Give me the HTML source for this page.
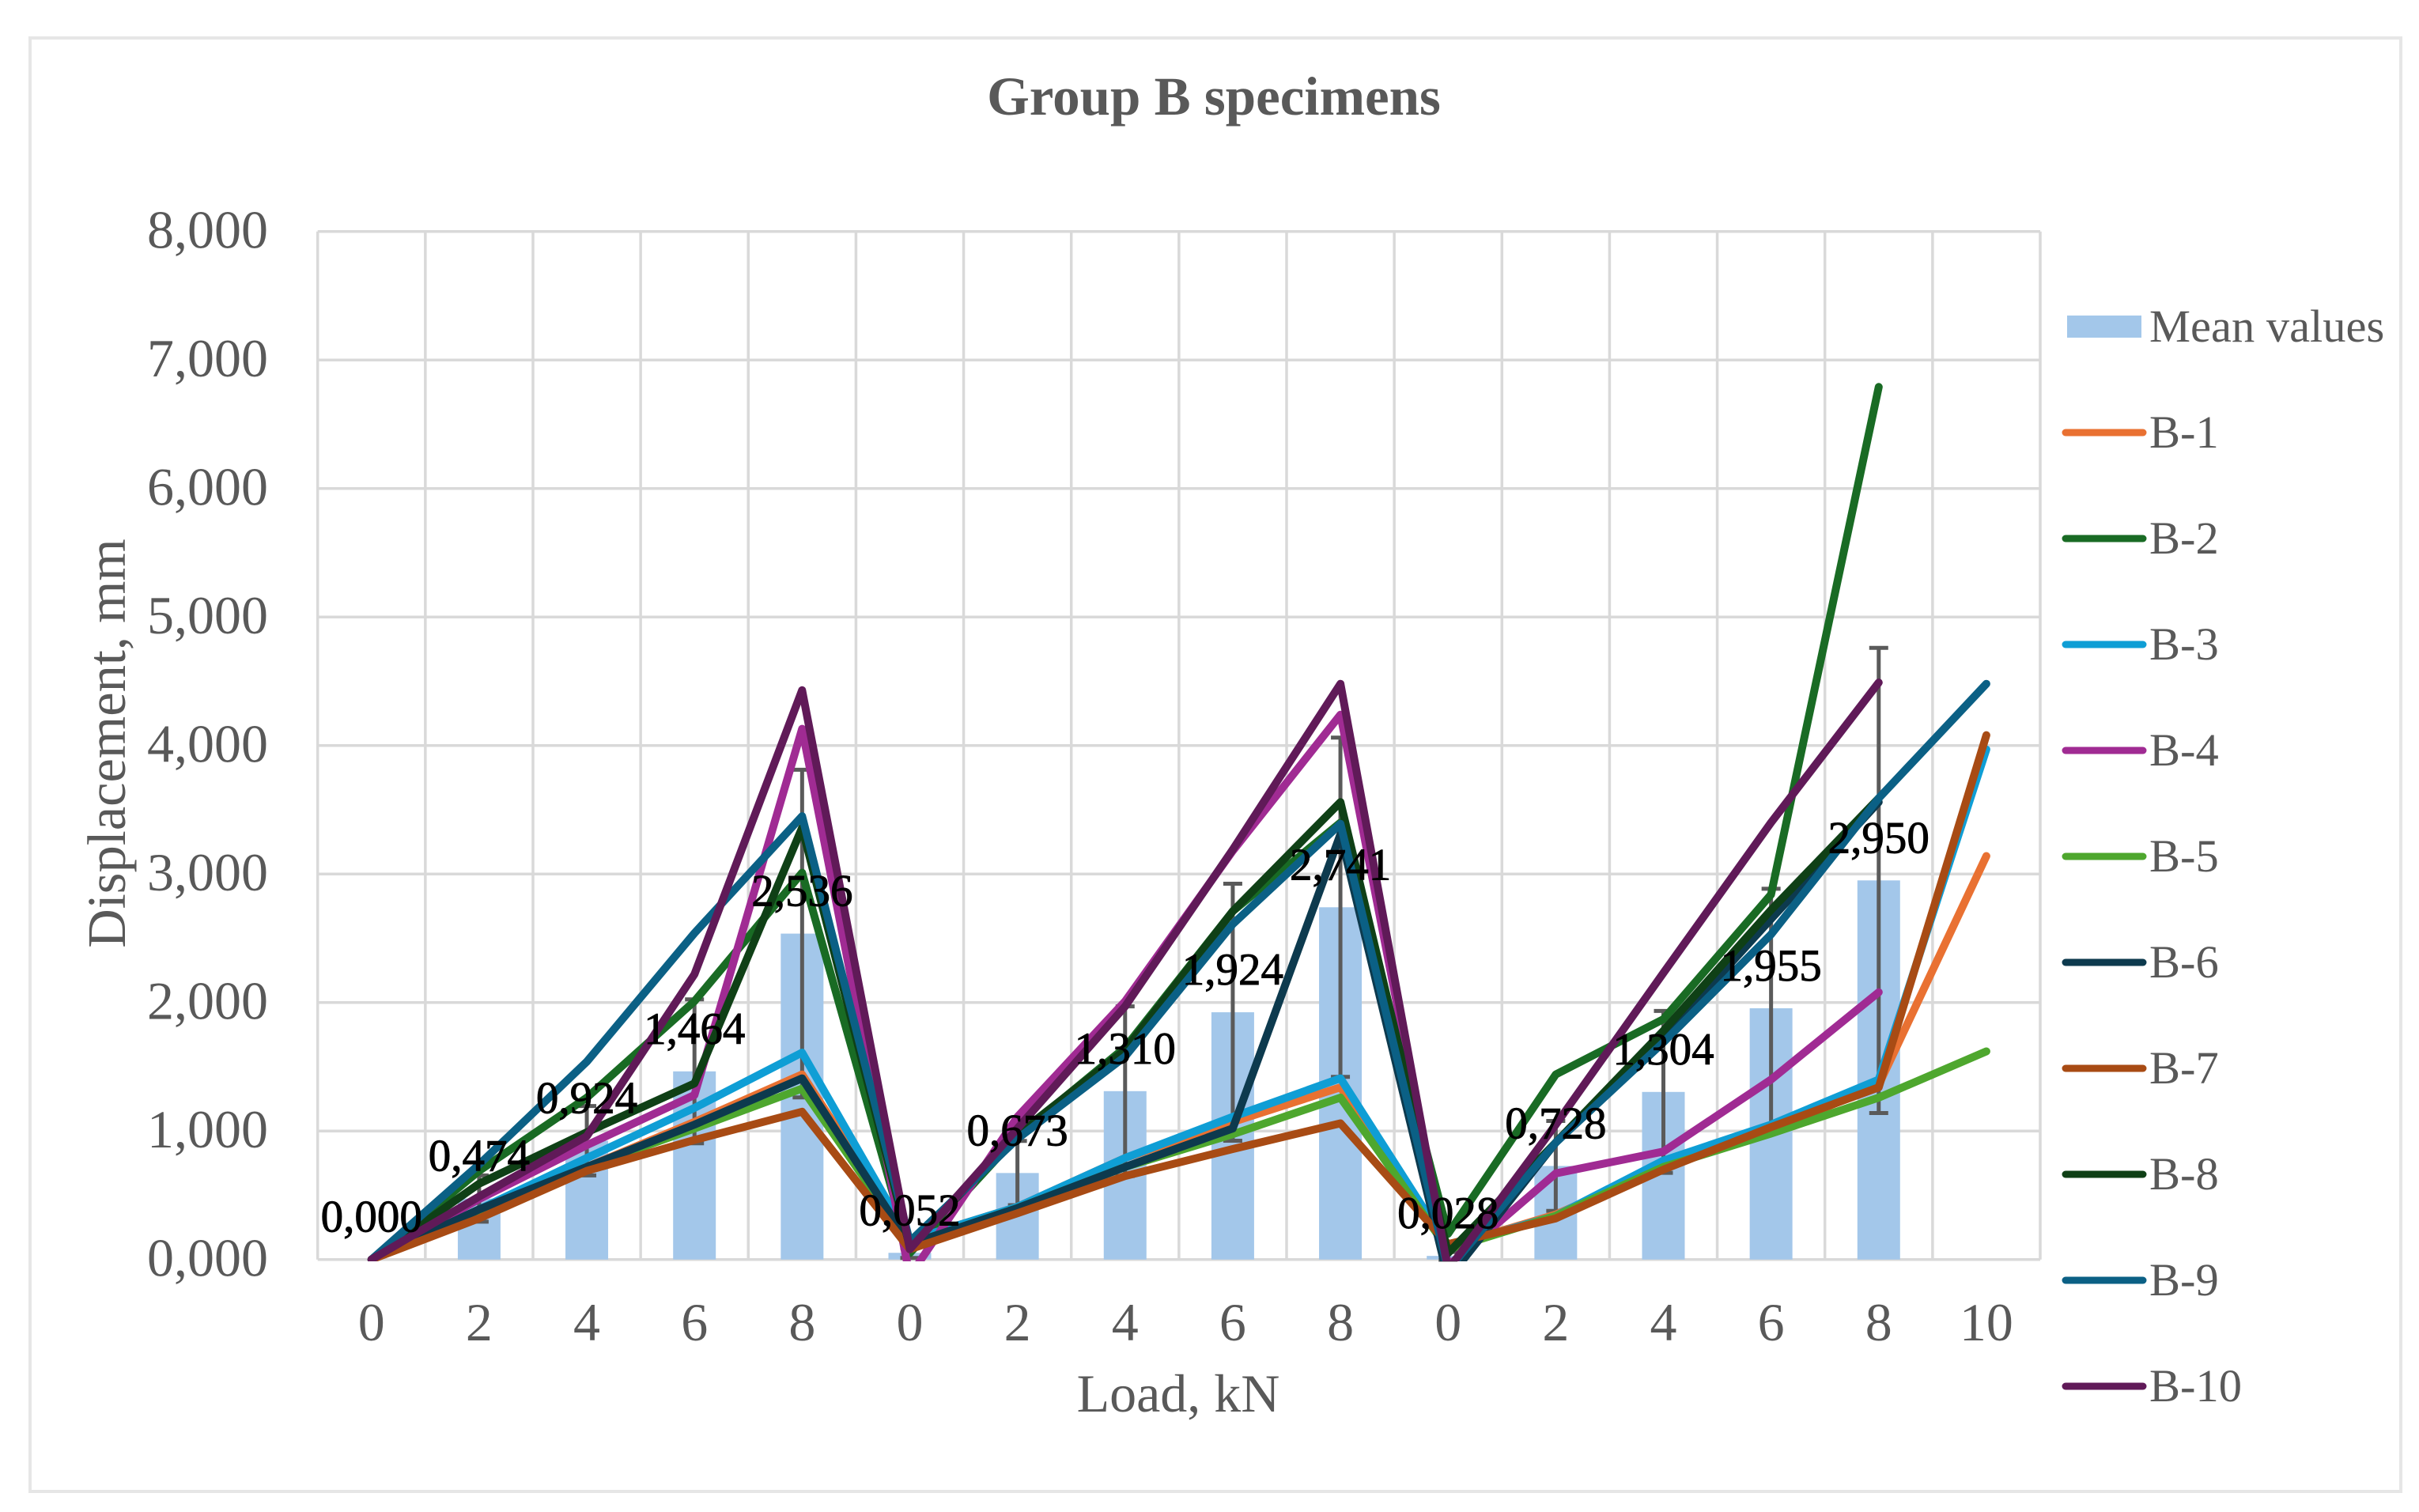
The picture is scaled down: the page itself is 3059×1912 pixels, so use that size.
<!DOCTYPE html>
<html lang="en">
<head>
<meta charset="utf-8">
<title>Group B specimens</title>
<style>
html,body{margin:0;padding:0;background:#fff;width:3059px;height:1912px;overflow:hidden}
svg{display:block;font-family:"Liberation Serif",serif}
</style>
</head>
<body>
<svg id="chart" xmlns="http://www.w3.org/2000/svg" width="3059" height="1912" viewBox="0 0 3059 1912">
  <defs><clipPath id="plot-clip"><rect x="401" y="280" width="2190" height="1315"/></clipPath></defs>
  <rect x="38" y="48" width="2998" height="1838" fill="#fff" stroke="#e6e6e6" stroke-width="4"/>
  <text x="1535" y="145" text-anchor="middle" font-size="69" font-weight="bold" fill="#595959">Group B specimens</text>
  <text x="1490" y="1785" text-anchor="middle" font-size="68" fill="#595959">Load, kN</text>
  <text transform="translate(158 940) rotate(-90)" text-anchor="middle" font-size="68.5" fill="#595959">Displacement, mm</text>
  <g id="grid"></g>
  <g id="bars"></g>
  <g id="errors"></g>
  <g id="lines" clip-path="url(#plot-clip)"></g>
  <g id="labels"></g>
  <g id="ticks"></g>
  <g id="legend"></g>
</svg>
<script>
const categories = ["0","2","4","6","8","0","2","4","6","8","0","2","4","6","8","10"];
const yTicks = [0,1,2,3,4,5,6,7,8];
const yTickLabels = ["0,000","1,000","2,000","3,000","4,000","5,000","6,000","7,000","8,000"];
const meanValues = [0,0.474,0.924,1.464,2.536,0.052,0.673,1.310,1.924,2.741,0.028,0.728,1.304,1.955,2.950,null];
const meanLabels = ["0,000","0,474","0,924","1,464","2,536","0,052","0,673","1,310","1,924","2,741","0,028","0,728","1,304","1,955","2,950",null];
const errorValues = [0,0.18,0.27,0.56,1.275,0.04,0.25,0.66,1.0,1.32,0.03,0.35,0.63,0.93,1.81,null];
const b1 = [0,0.39,0.72,1.07,1.44,0.15,0.41,0.79,1.07,1.34,0.10,0.35,0.72,1.00,1.36,3.14];
const b2 = [0,0.69,1.26,2.01,3.01,0.05,0.96,1.65,2.71,3.40,0.20,1.44,1.87,2.84,6.79,null];
const b3 = [0,0.39,0.79,1.18,1.61,0.15,0.41,0.79,1.11,1.41,0.10,0.34,0.77,1.05,1.40,3.97];
const b4 = [0,0.47,0.89,1.28,4.13,-0.13,1.11,2.01,3.18,4.24,-0.05,0.67,0.84,1.40,2.08,null];
const b5 = [0,0.38,0.72,1.02,1.33,0.12,0.40,0.72,0.975,1.26,0.08,0.34,0.72,0.98,1.26,1.62];
const b6 = [0,0.39,0.72,1.05,1.41,0.12,0.40,0.72,1.02,3.31,-0.15,0.91,1.73,2.65,3.56,null];
const b7 = [0,0.32,0.69,0.93,1.15,0.08,0.36,0.65,0.86,1.06,0.12,0.32,0.70,1.03,1.34,4.08];
const b8 = [0,0.59,0.99,1.37,3.36,0.10,0.975,1.63,2.71,3.56,0.05,0.91,1.78,2.72,3.59,null];
const b9 = [0,0.74,1.54,2.54,3.45,0.14,0.94,1.58,2.61,3.39,-0.08,0.91,1.69,2.53,3.59,4.48];
const b10 = [0,0.49,0.96,2.22,4.43,0.08,1.02,1.97,3.19,4.48,-0.08,1.05,2.23,3.40,4.49,null];
const seriesNames = ["B-1","B-2","B-3","B-4","B-5","B-6","B-7","B-8","B-9","B-10"];
const seriesValues = [b1,b2,b3,b4,b5,b6,b7,b8,b9,b10];
const seriesColors = ["#E97132","#196B24","#0F9ED5","#A02B93","#4EA72E","#0D3A4E","#A84B14","#0F4016","#0B6085","#601A58"];

const NS = "http://www.w3.org/2000/svg";
const plotLeft = 401.7, plotRight = 2580, plotTop = 292.7, plotBottom = 1592.7, yMax = 8;
const step = (plotRight - plotLeft) / categories.length;
function xScale(i){ return plotLeft + step * (i + 0.5); }
function yScale(v){ return plotBottom - (plotBottom - plotTop) * v / yMax; }
function make(tag, parent, attrs){
  const el = document.createElementNS(NS, tag);
  for (const k in attrs) el.setAttribute(k, attrs[k]);
  document.getElementById(parent).appendChild(el);
  return el;
}

yTicks.forEach(function(t, i){
  const line = make("line", "grid", {x1: plotLeft, x2: plotRight, y1: yScale(t), y2: yScale(t), stroke: "#d9d9d9", "stroke-width": 3.5});
  
  
  const label = make("text", "ticks", {x: 339, y: yScale(t) + 21, "text-anchor": "end", "font-size": 68, fill: "#595959"});
  
  
  label.textContent = yTickLabels[i];
});
for (let i = 0; i <= categories.length; i++) {
  const x = plotLeft + step * i;
  const line = make("line", "grid", {x1: x, x2: x, y1: plotTop, y2: plotBottom, stroke: "#d9d9d9", "stroke-width": 3.5});
  
  
}
categories.forEach(function(c, i){
  const label = make("text", "ticks", {x: xScale(i), y: 1695, "text-anchor": "middle", "font-size": 68, fill: "#595959"});
  
  
  label.textContent = c;
});

meanValues.forEach(function(v, i){
  if (v === null) return;
  const bar = make("rect", "bars", {x: xScale(i) - 27, y: yScale(v), width: 54, height: plotBottom - yScale(v), fill: "#A3C7EA"});
  
  
  const e = errorValues[i];
  if (e > 0) {
    const x = xScale(i), top = yScale(v + e), bot = yScale(v - e);
    const d = "M" + x + " " + top + "V" + bot + "M" + (x - 12) + " " + top + "H" + (x + 12) + "M" + (x - 12) + " " + bot + "H" + (x + 12);
    const err = make("path", "errors", {d: d, fill: "none", stroke: "#5a5a5a", "stroke-width": 5});
    
    
  }
  const label = make("text", "labels", {x: xScale(i), y: yScale(v) - 35, "text-anchor": "middle", "font-size": 57, fill: "#000", stroke: "#000", "stroke-width": 0.9});
  
  
  label.textContent = meanLabels[i];
});

seriesValues.forEach(function(values, s){
  let d = "";
  values.forEach(function(v, i){
    if (v === null) return;
    d += (d ? "L" : "M") + xScale(i).toFixed(1) + " " + yScale(v).toFixed(1);
  });
  const path = make("path", "lines", {d: d, fill: "none", stroke: seriesColors[s], "stroke-width": 10, "stroke-linejoin": "round", "stroke-linecap": "round"});
  
  
});

const legendTop = 413, legendStep = 134;
const meanSwatch = make("rect", "legend", {x: 2614, y: legendTop - 14, width: 94, height: 28, fill: "#A3C7EA"});


const meanText = make("text", "legend", {x: 2718, y: legendTop + 19, "font-size": 58.5, fill: "#595959"});


meanText.textContent = "Mean values";
seriesNames.forEach(function(name, s){
  const y = legendTop + legendStep * (s + 1);
  const swatch = make("line", "legend", {x1: 2612, x2: 2710, y1: y, y2: y, stroke: seriesColors[s], "stroke-width": 9, "stroke-linecap": "round"});
  
  
  const text = make("text", "legend", {x: 2718, y: y + 19, "font-size": 58.5, fill: "#595959"});
  
  
  text.textContent = name;
});
</script>
</body>
</html>
